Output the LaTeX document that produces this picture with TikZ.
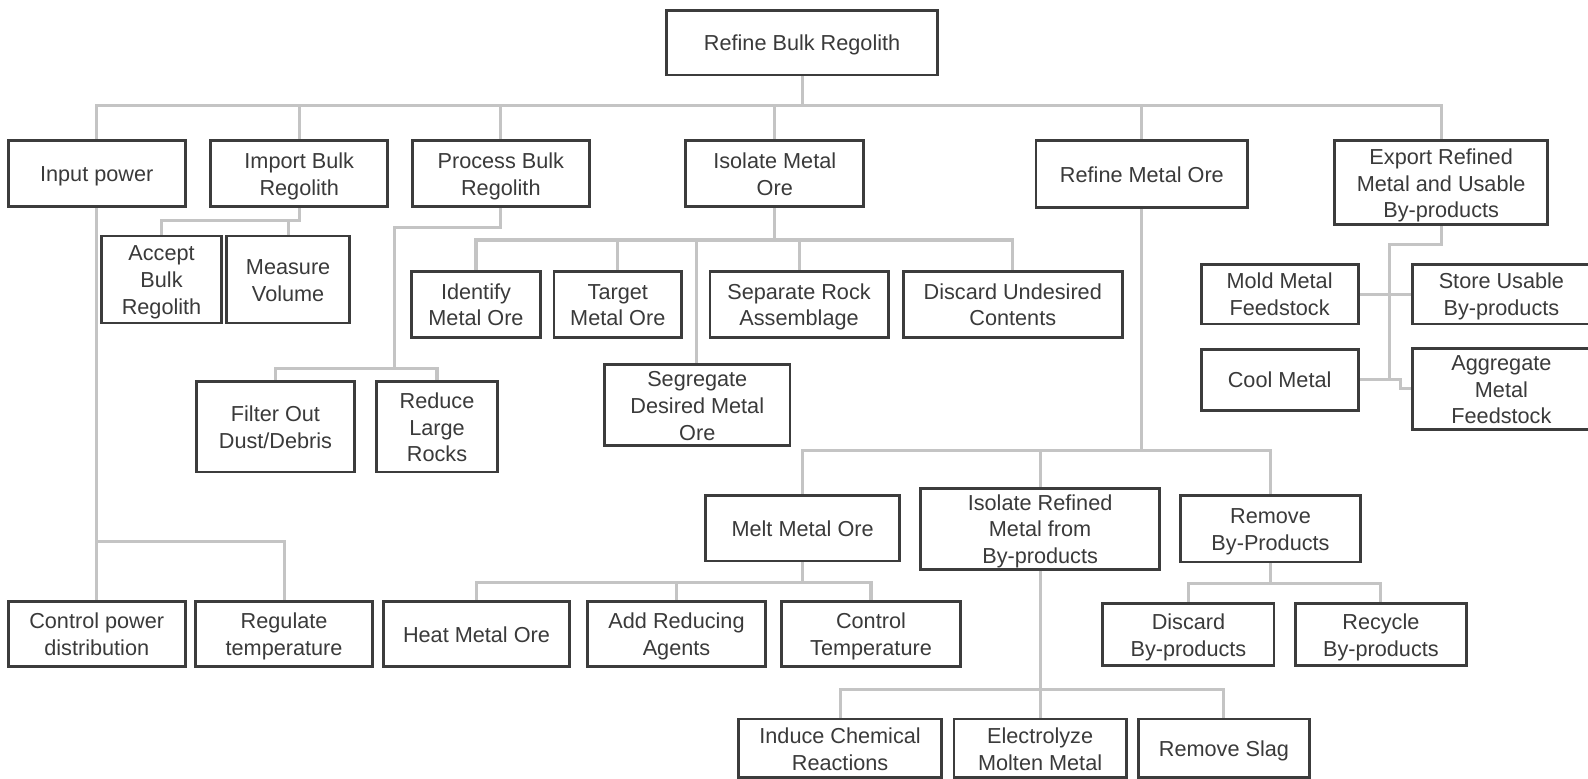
\documentclass[tikz,border=0pt]{standalone}
\usepackage{fontspec}
\setmainfont{Liberation Sans}
\usetikzlibrary{backgrounds}
\definecolor{boxline}{HTML}{3C3C3C}
\definecolor{txt}{HTML}{3A3A3A}
\definecolor{connc}{HTML}{C4C4C4}
\tikzset{
  box/.style={draw=boxline, line width=1.4pt, fill=white, inner sep=0pt, outer sep=0pt,
    text=txt, font=\fontsize{10.7}{13.25}\selectfont},
  conn/.style={draw=connc, line width=1.5pt, line join=miter}
}
\newcommand{\bx}[6]{\node[box,minimum width={(#4-#2)*0.5pt},minimum height={(#5-#3)*0.5pt}] (#1) at ({(#2+#4)/2},{(#3+#5)/2}) {\raisebox{-1.4pt}[\height][\depth]{\begin{tabular}{@{}c@{}}#6\end{tabular}}};}
\begin{document}
\begin{tikzpicture}[x=0.5pt,y=-0.5pt]
\useasboundingbox (0,0) rectangle (1568,769);
\clip (0,0) rectangle (1568,769);
% level 0
\bx{root}{658}{10}{926}{74}{Refine Bulk Regolith}
% level 1
\bx{inp}{8}{139}{183}{204}{Input power}
\bx{imp}{208}{139}{383}{204}{Import Bulk\\Regolith}
\bx{proc}{407}{139}{582}{204}{Process Bulk\\Regolith}
\bx{iso}{677}{139}{853}{204}{Isolate Metal\\Ore}
\bx{rmo}{1023}{139}{1232}{205}{Refine Metal Ore}
\bx{export}{1318}{139}{1528}{222}{Export Refined\\Metal and Usable\\By-products}
% import children
\bx{acc}{100}{233}{219}{319}{Accept\\Bulk\\Regolith}
\bx{meas}{224}{233}{345}{319}{Measure\\Volume}
% process children
\bx{filt}{194}{377}{350}{466}{Filter Out\\Dust/Debris}
\bx{red}{372}{377}{491}{466}{Reduce\\Large\\Rocks}
% isolate children
\bx{ident}{406}{268}{534}{333}{Identify\\Metal Ore}
\bx{targ}{547}{268}{673}{333}{Target\\Metal Ore}
\bx{sep}{701}{268}{877}{333}{Separate Rock\\Assemblage}
\bx{disc}{892}{268}{1108}{333}{Discard Undesired\\Contents}
\bx{segr}{597}{360}{780}{440}{Segregate\\Desired Metal\\Ore}
% export children
\bx{mold}{1186}{261}{1341}{320}{Mold Metal\\Feedstock}
\bx{store}{1395}{261}{1570}{320}{Store Usable\\By-products}
\bx{cool}{1186}{345}{1341}{405}{Cool Metal}
\bx{aggr}{1395}{344}{1570}{424}{Aggregate\\Metal\\Feedstock}
% refine metal ore children
\bx{melt}{697}{489}{888}{554}{Melt Metal Ore}
\bx{isor}{909}{482}{1145}{562}{Isolate Refined\\Metal from\\By-products}
\bx{remb}{1166}{489}{1343}{555}{Remove\\By-Products}
% input power children
\bx{ctrlp}{8}{594}{183}{658}{Control power\\distribution}
\bx{regt}{193}{594}{368}{658}{Regulate\\temperature}
% melt children
\bx{heat}{379}{594}{562}{658}{Heat Metal Ore}
\bx{addr}{580}{594}{756}{658}{Add Reducing\\Agents}
\bx{ctrlt}{772}{594}{948}{658}{Control\\Temperature}
% remove by-products children
\bx{discb}{1089}{596}{1258}{657}{Discard\\By-products}
\bx{recb}{1279}{596}{1448}{657}{Recycle\\By-products}
% isolate refined children
\bx{induce}{729}{710}{930}{768}{Induce Chemical\\Reactions}
\bx{elec}{942}{710}{1112}{768}{Electrolyze\\Molten Metal}
\bx{slag}{1124}{710}{1293}{768}{Remove Slag}

\begin{scope}[on background layer]
\fill[white] (0,0) rectangle (1568,769);
% root bus
\draw[conn] (root.south) -- (root.south |- 0,104);
\draw[conn] (inp.north) -- (inp.north |- 0,104) -- (export.north |- 0,104) -- (export.north);
\foreach \n in {imp,proc,iso,rmo} \draw[conn] (\n.north) -- (\n.north |- 0,104);
% input power
\draw[conn] (inp.south) -- (ctrlp.north);
\draw[conn] (regt.north) -- (regt.north |- 0,535) -- (inp.south |- 0,535);
% import
\draw[conn] (imp.south) -- (imp.south |- 0,218) -- (acc.north |- 0,218) -- (acc.north);
\draw[conn] (meas.north) -- (meas.north |- 0,218);
% process
\draw[conn] (proc.south) -- (proc.south |- 0,225) -- (390,225) -- (390,364);
\draw[conn] (filt.north) -- (filt.north |- 0,364) -- (red.north |- 0,364) -- (red.north);
% isolate
\draw[conn] (iso.south) -- (iso.south |- 0,237);
\draw[conn] (ident.north) -- (ident.north |- 0,237) -- (disc.north |- 0,237) -- (disc.north);
\draw[conn] (targ.north) -- (targ.north |- 0,237);
\draw[conn] (sep.north) -- (sep.north |- 0,237);
\draw[conn] (segr.north -| 688,0) -- (688,237);
% export
\draw[conn] (export.south) -- (export.south |- 0,241) -- (1372,241) -- (1372,375);
\draw[conn] (mold.east) -- (store.west);
\draw[conn] (cool.east) -- (1383,375) -- (1383,384) -- (aggr.west |- 0,384);
% refine metal ore
\draw[conn] (rmo.south) -- (rmo.south |- 0,445);
\draw[conn] (melt.north) -- (melt.north |- 0,445) -- (remb.north |- 0,445) -- (remb.north);
\draw[conn] (isor.north) -- (isor.north |- 0,445);
% melt
\draw[conn] (melt.south) -- (melt.south |- 0,575);
\draw[conn] (heat.north) -- (heat.north |- 0,575) -- (ctrlt.north |- 0,575) -- (ctrlt.north);
\draw[conn] (addr.north) -- (addr.north |- 0,575);
% isolate refined
\draw[conn] (isor.south) -- (elec.north);
\draw[conn] (induce.north) -- (induce.north |- 0,681) -- (slag.north |- 0,681) -- (slag.north);
% remove by-products
\draw[conn] (remb.south) -- (remb.south |- 0,576);
\draw[conn] (discb.north) -- (discb.north |- 0,576) -- (recb.north |- 0,576) -- (recb.north);
\end{scope}
\end{tikzpicture}
\end{document}
